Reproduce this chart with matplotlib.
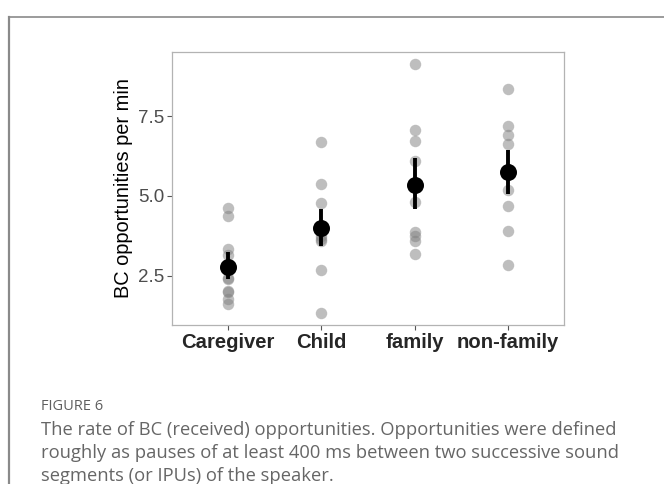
import numpy as np
import matplotlib.pyplot as plt
from matplotlib.lines import Line2D

# Groups on the x axis
groups = ["Caregiver", "Child", "family", "non-family"]

# Individual rates (BC opportunities per min)
caregiver = [4.63, 4.36, 3.33, 3.15, 2.42, 2.38, 2.02, 1.98, 1.78, 1.62]
child = [6.69, 5.38, 4.77, 3.75, 3.65, 3.58, 2.69, 1.34]
family = [9.13, 7.07, 6.74, 6.11, 4.82, 3.86, 3.75, 3.59, 3.18]
non_family = [8.37, 7.20, 6.91, 6.64, 5.85, 5.18, 4.68, 3.89, 2.84]

# Summary: mean and error bar ends
means = [2.77, 3.99, 5.36, 5.74]
err_low = [2.38, 3.44, 4.58, 5.05]
err_high = [3.23, 4.58, 6.19, 6.43]

caption_title = "FIGURE 6"
caption_lines = [
    "The rate of BC (received) opportunities. Opportunities were defined",
    "roughly as pauses of at least 400 ms between two successive sound",
    "segments (or IPUs) of the speaker.",
]

fig = plt.figure(figsize=(6.64, 4.84), dpi=100)
ax = fig.add_axes([172 / 664, 1 - 325 / 484, 392 / 664, 273 / 484])

# Raw points
for i, vals in enumerate([caregiver, child, family, non_family]):
    ax.scatter(np.full(len(vals), i + 1), vals, s=68, color="#7f7f7f",
               alpha=0.5, linewidths=0, zorder=2)

# Mean with error bar
xs = np.arange(1, len(groups) + 1)
ax.vlines(xs, err_low, err_high, color="black", linewidth=2.8, zorder=3)
ax.scatter(xs, means, s=150, color="black", zorder=4, linewidths=0)

ax.set_xlim(0.4, 4.6)
ax.set_ylim(0.95, 9.52)
ax.set_xticks(xs)
ax.set_xticklabels(groups, fontsize=14.6, fontweight="bold", color="#262626",
                   family="Liberation Sans")
ax.set_yticks([2.5, 5.0, 7.5])
ax.set_yticklabels(["2.5", "5.0", "7.5"], fontsize=13.5, color="#4d4d4d",
                   family="Liberation Sans")
ax.tick_params(axis="both", length=3.5, width=0.8, color="#555555", pad=2)
ax.set_ylabel("BC opportunities per min", fontsize=14.4, family="Liberation Sans",
              labelpad=4)
for sp in ax.spines.values():
    sp.set_color("#b3b3b3")
    sp.set_linewidth(0.9)

# Frame lines of the page
fig.add_artist(Line2D([8.5 / 664, 8.5 / 664], [0, 1 - 16.5 / 484],
                      color="#8a8a8a", linewidth=1.6))
fig.add_artist(Line2D([8.5 / 664, 1], [1 - 16.5 / 484, 1 - 16.5 / 484],
                      color="#8a8a8a", linewidth=1.2))

# Caption
fig.text(41 / 664, 1 - 406 / 484, caption_title, fontsize=10.5, color="#5f5f5f",
         family="Open Sans", va="center")
for k, line in enumerate(caption_lines):
    fig.text(41 / 664, 1 - (430 + 23 * k) / 484, line, fontsize=13.2,
             color="#666666", family="Open Sans", va="center")

fig.savefig("out.png", dpi=100)
